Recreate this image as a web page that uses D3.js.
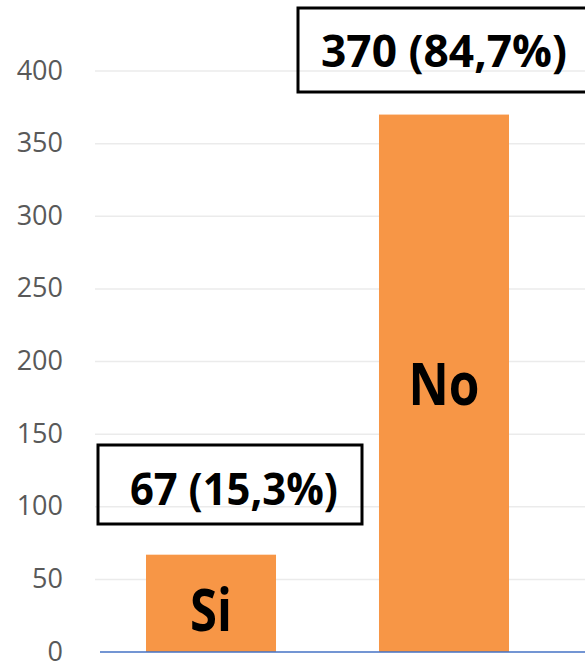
<!DOCTYPE html>
<html><head><meta charset="utf-8">
<script src="https://cdn.jsdelivr.net/npm/d3@7/dist/d3.min.js"></script>
<style>body{margin:0;background:#fff}svg{display:block}</style>
</head><body>
<svg id="chart" width="585" height="662"></svg>
<script>
const categories = ["Si", "No"];
const values = [67, 370];
const labels = ["67 (15,3%)", "370 (84,7%)"];
const yTicks = [0, 50, 100, 150, 200, 250, 300, 350, 400];

const svg = d3.select("#chart");
const W = 585, H = 662;
const y = d3.scaleLinear().domain([0, 400]).range([652, 71]);
const x = d3.scaleBand().domain(categories).range([29.5, 625.5]).paddingInner(0.442).paddingOuter(0.5);

// gridlines
svg.append("g").selectAll("line").data(yTicks.filter(d => d > 0)).join("line")
  .attr("x1", 95).attr("x2", W)
  .attr("y1", d => y(d)).attr("y2", d => y(d))
  .attr("stroke", "#ebebeb").attr("stroke-width", 1.5);

// y axis labels
const axis = d3.axisLeft(y).tickValues(yTicks).tickSize(0).tickPadding(0);
const ag = svg.append("g").attr("transform", "translate(63,0)").call(axis);
ag.select(".domain").remove();
ag.selectAll("text").attr("font-family", "Open Sans, sans-serif").attr("font-size", 27)
  .attr("fill", "#595959").attr("dy", "0.3em");

// bars
svg.append("g").selectAll("rect").data(values).join("rect")
  .attr("x", (d, i) => x(categories[i])).attr("width", x.bandwidth())
  .attr("y", d => y(d)).attr("height", d => y(0) - y(d))
  .attr("fill", "#F79646");

// baseline
svg.append("line").attr("x1", 100).attr("x2", W).attr("y1", y(0)).attr("y2", y(0))
  .attr("stroke", "#4472C4").attr("stroke-width", 1.5);

// category labels inside bars
const catPos = [{yv: 30, w: 42}, {yv: 186, w: 71}];
svg.append("g").selectAll("text").data(categories).join("text")
  .attr("x", (d, i) => x(d) + x.bandwidth() / 2)
  .attr("y", (d, i) => y(catPos[i].yv))
  .attr("text-anchor", "middle").attr("dominant-baseline", "central")
  .attr("font-family", "Open Sans, sans-serif").attr("font-weight", 700)
  .attr("font-size", 59)
  .attr("textLength", (d, i) => catPos[i].w).attr("lengthAdjust", "spacingAndGlyphs")
  .text(d => d);

// value label boxes
const boxes = [
  {x0: 98, x1: 362, yt: 445, yb: 524, tx: 130, tw: 208},
  {x0: 298, x1: 600, yt: 8, yb: 92, tx: 321, tw: 246}
];
const bg = svg.append("g");
bg.selectAll("rect").data(boxes).join("rect")
  .attr("x", b => b.x0).attr("y", b => b.yt)
  .attr("width", b => b.x1 - b.x0).attr("height", b => b.yb - b.yt)
  .attr("fill", "none").attr("stroke", "#000").attr("stroke-width", 3);
bg.selectAll("text").data(boxes).join("text")
  .attr("x", b => b.tx).attr("y", (b, i) => (b.yt + b.yb) / 2 + (i === 0 ? 3 : 0))
  .attr("dominant-baseline", "central")
  .attr("font-family", "Open Sans, sans-serif").attr("font-weight", 700)
  .attr("font-size", 44)
  .attr("textLength", b => b.tw).attr("lengthAdjust", "spacingAndGlyphs")
  .text((b, i) => labels[i]);
</script>
</body></html>
